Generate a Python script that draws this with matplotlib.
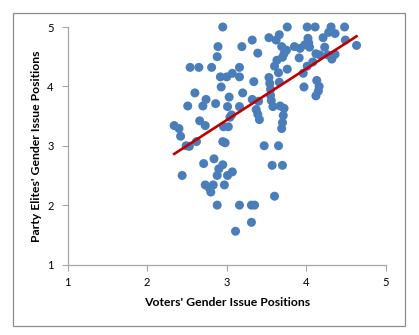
import numpy as np
import matplotlib.pyplot as plt
from matplotlib.patches import Rectangle

plt.rcParams['font.family'] = ['Lato', 'DejaVu Sans']

# voters' vs party elites' positions on gender issues
voters = [2.95, 3.76, 4.01, 4.11, 4.31, 4.48, 4.28, 4.36, 3.53, 3.66,
          3.62, 3.32, 3.19, 3.39, 4.21, 4.02, 4.49, 4.63, 3.85, 3.92,
          3.98, 4.03, 4.04, 3.69, 3.75, 3.72, 3.70, 3.63, 3.60, 3.65,
          3.76, 3.91, 4.12, 4.17, 4.23, 4.27, 4.32, 4.36, 3.96, 4.01,
          4.08, 4.13, 4.16, 4.15, 4.12, 3.97, 3.66, 3.53, 3.54, 3.55,
          3.55, 3.56, 3.58, 3.67, 3.72, 3.71, 3.70, 3.69, 3.32, 3.40,
          3.37, 3.39, 3.41, 3.34, 3.20, 3.16, 3.16, 3.07, 3.00, 2.92,
          2.93, 3.03, 2.86, 3.01, 3.16, 3.04, 3.06, 2.96, 3.02, 2.81,
          2.89, 2.88, 2.54, 2.65, 2.60, 2.74, 2.51, 2.70, 2.66, 2.73,
          2.34, 2.40, 2.42, 2.49, 2.53, 2.62, 2.95, 2.98, 2.84, 2.71,
          2.95, 2.90, 2.88, 3.01, 3.07, 2.44, 2.73, 2.78, 2.80, 2.83,
          2.97, 2.88, 3.16, 3.31, 3.35, 3.31, 3.11, 3.47, 3.65, 3.57,
          3.70, 3.60]
elites = [5.00, 5.00, 5.00, 5.00, 5.00, 5.00, 4.91, 4.89, 4.82, 4.87,
          4.78, 4.78, 4.67, 4.56, 4.82, 4.81, 4.78, 4.69, 4.67, 4.64,
          4.70, 4.73, 4.66, 4.67, 4.61, 4.55, 4.49, 4.44, 4.34, 4.23,
          4.29, 4.48, 4.55, 4.53, 4.66, 4.53, 4.46, 4.54, 4.22, 4.34,
          4.41, 4.10, 4.00, 3.92, 3.84, 3.99, 4.07, 4.15, 4.05, 3.95,
          3.85, 3.76, 3.66, 3.67, 3.63, 3.51, 3.39, 3.29, 3.78, 3.75,
          3.61, 3.53, 3.44, 4.08, 3.89, 4.32, 4.16, 4.22, 4.16, 4.16,
          3.99, 3.82, 3.71, 3.66, 3.66, 3.48, 3.52, 3.32, 3.32, 4.32,
          4.67, 4.50, 4.32, 4.32, 3.89, 3.78, 3.67, 3.67, 3.42, 3.34,
          3.34, 3.29, 3.16, 3.00, 2.99, 3.07, 3.07, 3.05, 2.78, 2.70,
          2.68, 2.61, 2.50, 2.50, 2.56, 2.50, 2.34, 2.29, 2.22, 2.34,
          2.34, 2.00, 2.00, 2.00, 2.00, 1.71, 1.56, 3.00, 3.00, 2.67,
          2.67, 2.15]

ticks = [1, 2, 3, 4, 5]

x = np.array(voters)
y = np.array(elites)

# linear trendline over the range of the data
slope, intercept = np.polyfit(x, y, 1)
xs = np.array([x.min(), x.max()])

fig = plt.figure(figsize=(4.19, 3.35), dpi=100)

# chart area border
fig.patches.append(Rectangle((12.5 / 419, 1 - 325.5 / 335), 392 / 419, 313 / 335,
                             transform=fig.transFigure, fill=False,
                             edgecolor='#8c8c8c', linewidth=0.9))

ax = fig.add_axes([67.5 / 419, 1 - 264.5 / 335, 318.5 / 419, 237.5 / 335])
ax.scatter(x, y, s=42, color='#4a7ebb', edgecolors='none', zorder=2, clip_on=False)
ax.plot(xs, slope * xs + intercept, color='#c00000', linewidth=1.9, zorder=3)

ax.set_xlim(1, 5)
ax.set_ylim(1, 5)
ax.set_xticks(ticks)
ax.set_yticks(ticks)
ax.set_xticklabels([str(t) for t in ticks])
ax.set_yticklabels([str(t) for t in ticks])

for s in ['top', 'right']:
    ax.spines[s].set_visible(False)
for s in ['left', 'bottom']:
    ax.spines[s].set_color('#a6a6a6')
    ax.spines[s].set_linewidth(0.9)
ax.tick_params(direction='out', length=4, width=0.8, color='#a6a6a6',
               labelsize=8, labelcolor='black')
ax.tick_params(axis='x', pad=5)
ax.tick_params(axis='y', pad=6)

ax.set_xlabel("Voters' Gender Issue Positions", fontsize=8.8, fontweight='bold', labelpad=6.5)
ax.set_ylabel("Party Elites' Gender Issue Positions", fontsize=8.8, fontweight='bold', labelpad=4)

fig.savefig('out.png', dpi=100)
